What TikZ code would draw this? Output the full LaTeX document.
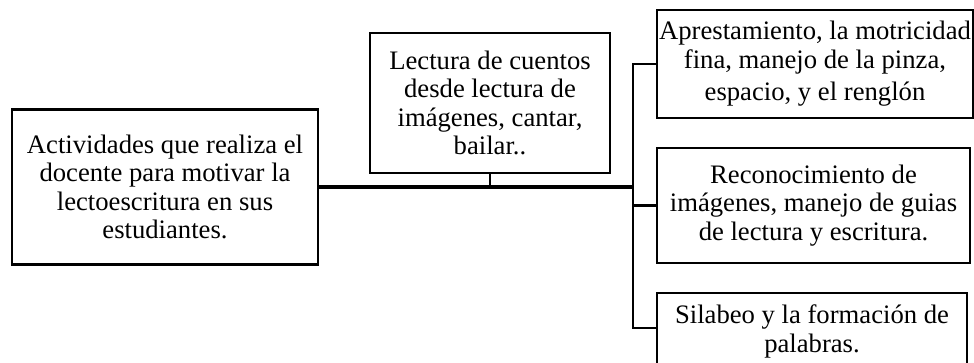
\documentclass[tikz,border=0pt]{standalone}
\usepackage{fontspec}
\setmainfont{Liberation Serif}
\begin{document}
\begin{tikzpicture}[x=0.75pt,y=-0.75pt,
  box/.style={draw,line width=2pt,align=center,inner sep=0pt,font=\fontsize{20}{21.4}\selectfont},
  conn/.style={line width=2pt},
  mainline/.style={line width=3pt}]
\clip (0,0) rectangle (974,362);
\node[box,minimum width=229.5pt,minimum height=116.25pt] (A) at (165,187)
  {Actividades que realiza el\\docente para motivar la\\lectoescritura en sus\\estudiantes.};
\node[box,minimum width=180pt,minimum height=105pt] (B) at (490,103)
  {Lectura de cuentos\\desde lectura de\\imágenes, cantar,\\bailar..};
\node[box,minimum width=237pt,minimum height=81pt] (C) at (815,64)
  {Aprestamiento, la motricidad\\fina, manejo de la pinza,\\[3pt]espacio, y el renglón};
\node[box,minimum width=234.75pt,minimum height=86.25pt] (D) at (813.5,205.5)
  {Reconocimiento de\\imágenes, manejo de guias\\de lectura y escritura.};
\node[box,minimum width=232.5pt,minimum height=57.75pt] (E) at (812,331.5)
  {Silabeo y la formación de\\palabras.};
\coordinate (J) at (633,187);
\coordinate (Vt) at (C.west -| J);
\coordinate (Vb) at (633,328);
\draw[mainline] (A.east) -- (J);
\draw[conn] (B.south) -- (B.south |- J);
\draw[conn] (C.west) -- (Vt) -- (Vb) -- (Vb -| E.west);
\draw[conn] (D.west -| J) -- (D.west);
\end{tikzpicture}
\end{document}
